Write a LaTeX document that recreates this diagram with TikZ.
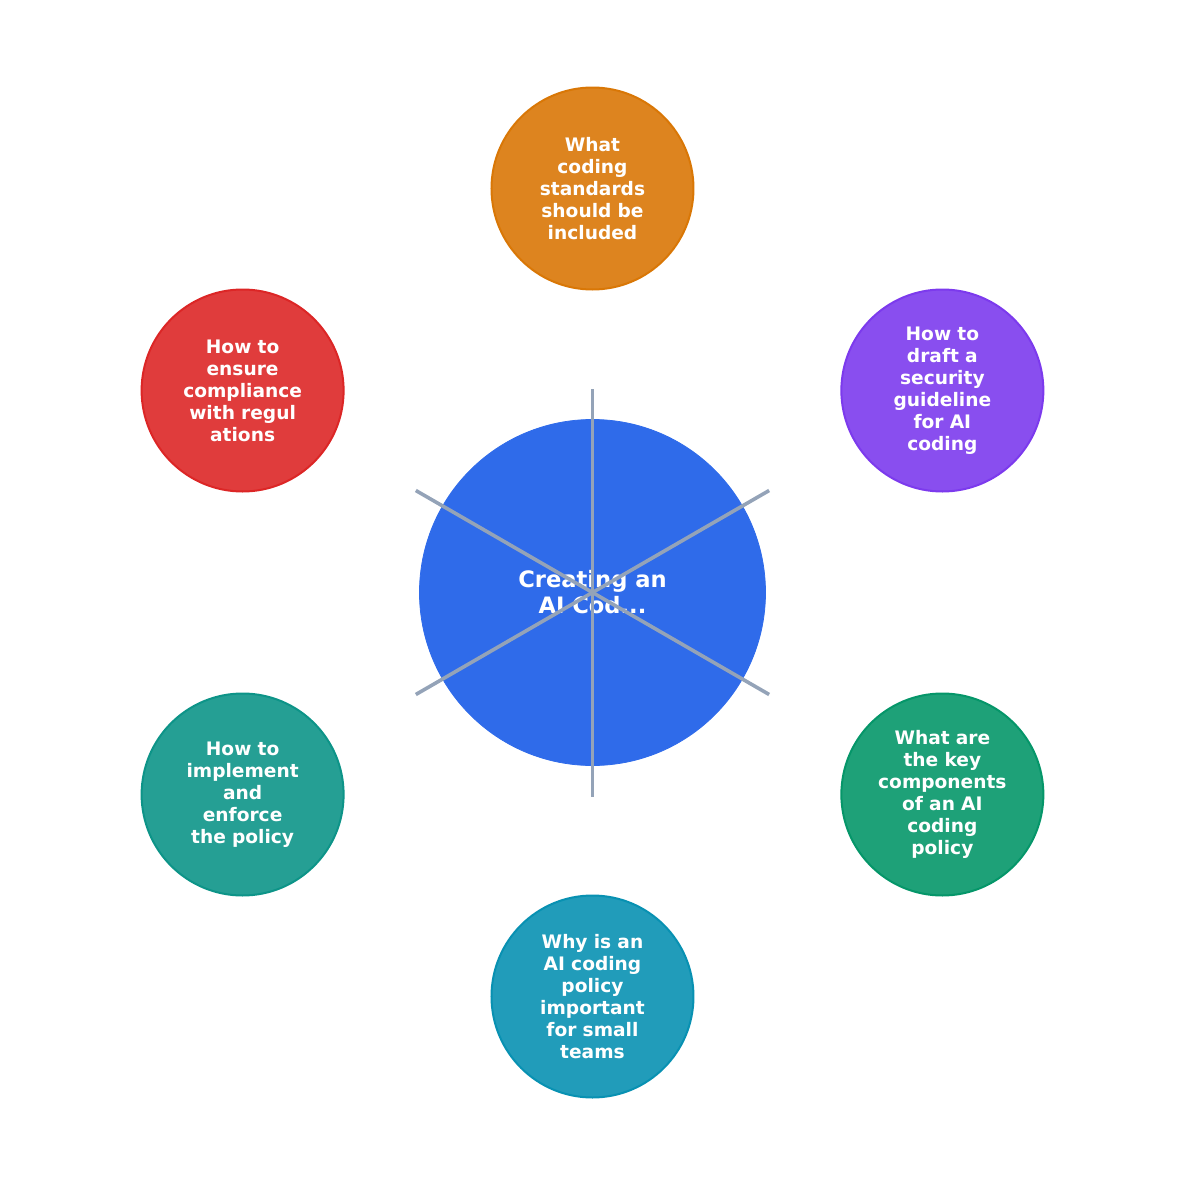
\documentclass[tikz,border=0pt]{standalone}
\usepackage{fontspec}
\setmainfont{DejaVu Sans}
\usepackage{tikz}
\usetikzlibrary{positioning,calc}
\definecolor{hubblue}{RGB}{47,107,234}
\definecolor{orfill}{RGB}{221,132,31}   \definecolor{orline}{RGB}{217,119,6}
\definecolor{pufill}{RGB}{137,78,239}   \definecolor{puline}{RGB}{124,58,237}
\definecolor{grfill}{RGB}{30,161,120}   \definecolor{grline}{RGB}{5,150,105}
\definecolor{cyfill}{RGB}{33,156,186}   \definecolor{cyline}{RGB}{8,145,178}
\definecolor{tefill}{RGB}{37,159,148}   \definecolor{teline}{RGB}{13,148,136}
\definecolor{refill}{RGB}{224,60,60}    \definecolor{reline}{RGB}{220,38,38}
\definecolor{spoke}{RGB}{148,163,184}
\tikzset{%
  % Specifications for style of nodes:
            hub/.style  = {circle, fill=hubblue, draw=hubblue, minimum size=173pt,
                           text=white, align=center,
                           font=\fontsize{11.3pt}{13pt}\selectfont\bfseries},
            topic/.style = {circle, line width=1pt, minimum size=101pt, inner sep=0pt,
                           text=white, align=center, text width=70pt,
                           font=\fontsize{9.3pt}{11pt}\selectfont\bfseries},
            spokeline/.style = {draw=spoke, line width=1.8pt}
                           }

\begin{document}
\begin{tikzpicture}
                    \useasboundingbox (-296.25pt,-296.25pt) rectangle (296.25pt,296.25pt);

                    \node (core)  [hub]                                        at (0,0)        {Creating an\\AI Cod...};
                    \node (stand) [topic, fill=orfill, draw=orline]            at (90:202pt)   {What\\coding\\standards\\should be\\included};
                    \node (secur) [topic, fill=pufill, draw=puline]            at (30:202pt)   {How to\\draft a\\security\\guideline\\for AI\\coding};
                    \node (comps) [topic, fill=grfill, draw=grline]            at (-30:202pt)  {What are\\the key\\components\\of an AI\\coding\\policy};
                    \node (why)   [topic, fill=cyfill, draw=cyline]            at (-90:202pt)  {Why is an\\AI coding\\policy\\important\\for small\\teams};
                    \node (enfor) [topic, fill=tefill, draw=teline]            at (210:202pt)  {How to\\implement\\and\\enforce\\the policy};
                    \node (regul) [topic, fill=refill, draw=reline]            at (150:202pt)  {How to\\ensure\\compliance\\with regul\\ations};

                    \coordinate (s1) at (90:102pt);
                    \coordinate (s2) at (30:102pt);
                    \coordinate (s3) at (-30:102pt);
                    \coordinate (s4) at (-90:102pt);
                    \coordinate (s5) at (210:102pt);
                    \coordinate (s6) at (150:102pt);

                    \draw[spokeline]  (core.center) -- (s1);
                    \draw[spokeline]  (core.center) -- (s2);
                    \draw[spokeline]  (core.center) -- (s3);
                    \draw[spokeline]  (core.center) -- (s4);
                    \draw[spokeline]  (core.center) -- (s5);
                    \draw[spokeline]  (core.center) -- (s6);
                \end{tikzpicture}
\end{document}
